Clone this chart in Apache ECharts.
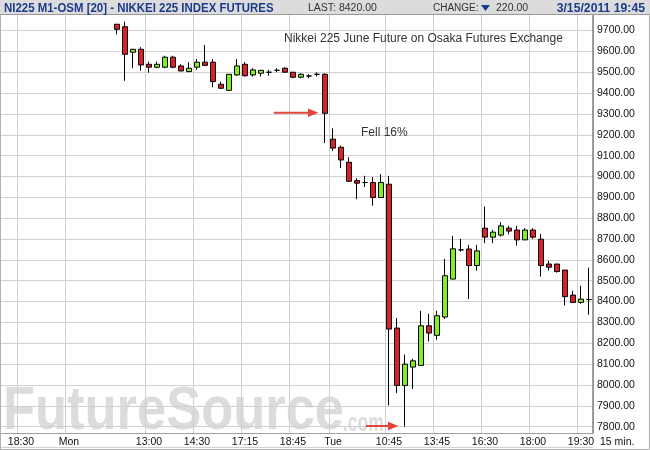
<!DOCTYPE html>
<html>
<head>
<meta charset="utf-8">
<title>NI225 M1-OSM [20]</title>
<script src="https://cdn.jsdelivr.net/npm/echarts@6/dist/echarts.min.js"></script>
<style>
  html, body { margin: 0; padding: 0; background: #fff; }
  #chart { width: 650px; height: 450px; }
</style>
</head>
<body>
<div id="chart"></div>
<script>
// 15 min. slots across the plot, the first bars of the window are empty
const slotCount = 74;
const firstBar = 14;
const tickSlots = [2, 8, 18, 24, 30, 36, 41, 48, 54, 60, 66, 72];
const tickLabels = ['18:30', 'Mon', '13:00', '14:30', '17:15', '18:45', 'Tue', '10:45', '13:45', '16:30', '18:00', '19:30'];

// OHLC, one entry per bar
const opens = [9730, 9718, 9596, 9610, 9538, 9524, 9524, 9572, 9530, 9503,
  9524, 9548, 9548, 9442, 9413, 9487, 9538, 9487, 9495, 9500,
  9509, 9519, 9500, 9476, 9482, 9490, 9490, 9179, 9140, 9068,
  8980, 8971, 8971, 8899, 8963, 8273, 7998, 8086, 8094, 8284,
  8238, 8326, 8508, 8648, 8652, 8573, 8752, 8709, 8719, 8752,
  8743, 8696, 8743, 8699, 8580, 8580, 8551, 8431, 8396, 8410];
const closes = [9706, 9586, 9610, 9535, 9524, 9538, 9572, 9524, 9506, 9519,
  9548, 9533, 9455, 9423, 9490, 9530, 9483, 9511, 9509, 9500,
  9509, 9500, 9476, 9490, 9482, 9490, 9303, 9136, 9079, 8977,
  8968, 8971, 8899, 8971, 8268, 7998, 8100, 8116, 8284, 8249,
  8332, 8524, 8653, 8648, 8573, 8643, 8709, 8733, 8763, 8738,
  8696, 8743, 8709, 8573, 8565, 8544, 8424, 8396, 8412, 8410];
const lows = [9682, 9459, 9519, 9507, 9498, 9519, 9519, 9519, 9505, 9500,
  9511, 9530, 9428, 9420, 9412, 9482, 9479, 9479, 9479, 9483,
  9500, 9499, 9471, 9471, 9471, 9480, 9160, 9122, 9040, 8976,
  8891, 8949, 8860, 8898, 7902, 7961, 7801, 7981, 8093, 8209,
  8217, 8317, 8507, 8640, 8412, 8549, 8680, 8680, 8712, 8723,
  8669, 8695, 8701, 8520, 8549, 8539, 8381, 8395, 8389, 8337];
const highs = [9731, 9742, 9612, 9620, 9551, 9551, 9579, 9579, 9538, 9548,
  9563, 9630, 9563, 9455, 9491, 9563, 9548, 9519, 9510, 9511,
  9519, 9524, 9501, 9495, 9490, 9499, 9495, 9231, 9148, 9092,
  8992, 9003, 8997, 9011, 9003, 8321, 8145, 8126, 8356, 8342,
  8356, 8605, 8715, 8701, 8672, 8672, 8856, 8744, 8781, 8763,
  8763, 8752, 8752, 8725, 8595, 8581, 8552, 8452, 8476, 8563];

const yMin = 7700;
const yMax = 9800;
const yStep = 100;
const lastPrice = closes[closes.length - 1];

const categories = Array.from({length: slotCount}, (_, i) => {
  const k = tickSlots.indexOf(i);
  return k >= 0 ? tickLabels[k] : 's' + i;
});
const candles = categories.map((c, i) => {
  const j = i - firstBar;
  if (j < 0 || j >= opens.length) return '-';
  return [opens[j], closes[j], lows[j], highs[j]];
});
const isTick = idx => tickSlots.indexOf(idx) >= 0;

const FONT = '"Liberation Sans", Arial, sans-serif';
const BLUE = '#1d3b8c';
const RED = '#dd1f26';
const GREEN = '#80f020';
const ARROW = '#e2463a';

const chart = echarts.init(document.getElementById('chart'), null, {renderer: 'canvas'});

const option = {
  animation: false,
  backgroundColor: '#fff',
  textStyle: {fontFamily: FONT},
  grid: [
    // value scale: 7700 and 9800 fall under the header and the time strip
    {left: 1, right: 57, top: 9.65, bottom: 2.45, outerBoundsMode: 'none'},
    // visible plot box: time gridlines, time labels and the price axis line
    {left: 1, right: 57, top: 15, bottom: 17, outerBoundsMode: 'none'}
  ],
  xAxis: [
    {gridIndex: 0, type: 'category', data: categories, show: false},
    {
      gridIndex: 1,
      type: 'category',
      data: categories,
      axisLine: {show: true, lineStyle: {color: '#a0a0a0'}},
      axisTick: {show: false},
      axisLabel: {interval: isTick, color: '#111', fontSize: 10.5, margin: 4},
      splitLine: {show: true, interval: isTick, lineStyle: {color: '#d0d0d0'}}
    }
  ],
  yAxis: [
    {
      gridIndex: 0,
      type: 'value',
      position: 'right',
      min: yMin,
      max: yMax,
      interval: yStep,
      axisLine: {show: false},
      axisTick: {show: false},
      axisLabel: {
        color: '#111',
        fontSize: 10.5,
        margin: 4,
        formatter: v => (v === yMin || v === yMax) ? '' : v.toFixed(2)
      },
      splitLine: {lineStyle: {color: '#d0d0d0'}}
    },
    {
      gridIndex: 1,
      type: 'value',
      position: 'right',
      min: 0,
      max: 1,
      axisLine: {show: true, lineStyle: {color: '#808080', width: 1.5}},
      axisTick: {show: false},
      axisLabel: {show: false},
      splitLine: {show: false}
    }
  ],
  series: [
    {
      type: 'candlestick',
      xAxisIndex: 0,
      yAxisIndex: 0,
      data: candles,
      barWidth: 5,
      itemStyle: {
        color: GREEN,
        color0: RED,
        borderColor: '#000',
        borderColor0: '#000',
        borderColorDoji: '#000',
        borderWidth: 1
      },
      markLine: {
        silent: true,
        symbol: ['none', 'none'],
        lineStyle: {opacity: 0},
        label: {
          position: 'end',
          distance: 2,
          formatter: p => p.value.toFixed(2),
          color: '#fff',
          backgroundColor: RED,
          fontSize: 10.5,
          lineHeight: 12,
          padding: [0, 14, 0, 2]
        },
        data: [{yAxis: lastPrice}]
      }
    }
  ],
  graphic: [
    // watermark
    {
      type: 'text', x: 3, y: 443, scaleX: 0.86, z: -10, silent: true,
      style: {text: 'FutureSource', font: 'bold 61px ' + FONT, fill: '#dcdcdc', verticalAlign: 'bottom'}
    },
    {
      type: 'text', x: 343, y: 437, scaleX: 0.7, z: -10, silent: true,
      style: {text: '.com', font: 'bold 25px ' + FONT, fill: '#dcdcdc', verticalAlign: 'bottom'}
    },
    // header bar
    {type: 'rect', z: 100, shape: {x: 0, y: 0, width: 650, height: 14}, style: {fill: '#dcdcdc'}},
    {type: 'line', z: 100, shape: {x1: 0, y1: 14.5, x2: 650, y2: 14.5}, style: {stroke: '#9a9a9a', lineWidth: 1}},
    {
      type: 'text', z: 101, x: 4, y: 8, scaleX: 0.88,
      style: {text: 'NI225 M1-OSM [20] - NIKKEI 225 INDEX FUTURES', font: 'bold 13px ' + FONT, fill: BLUE, verticalAlign: 'middle'}
    },
    {
      type: 'text', z: 101, x: 308, y: 8,
      style: {text: 'LAST: 8420.00', font: '10.5px ' + FONT, fill: '#333', verticalAlign: 'middle'}
    },
    {
      type: 'text', z: 101, x: 433, y: 8,
      style: {text: 'CHANGE:', font: '10px ' + FONT, fill: '#333', verticalAlign: 'middle'}
    },
    {type: 'polygon', z: 101, shape: {points: [[481, 5], [490, 5], [485.5, 11]]}, style: {fill: BLUE}},
    {
      type: 'text', z: 101, x: 496, y: 8,
      style: {text: '220.00', font: '10.5px ' + FONT, fill: '#333', verticalAlign: 'middle'}
    },
    {
      type: 'text', z: 101, x: 645, y: 8, scaleX: 0.94,
      style: {text: '3/15/2011 19:45', font: 'bold 13px ' + FONT, fill: BLUE, align: 'right', verticalAlign: 'middle'}
    },
    // annotations
    {
      type: 'text', z: 50, x: 284, y: 39,
      style: {text: 'Nikkei 225 June Future on Osaka Futures Exchange', font: '12px ' + FONT, fill: '#333', verticalAlign: 'middle'}
    },
    {
      type: 'text', z: 50, x: 361, y: 133,
      style: {text: 'Fell 16%', font: '12px ' + FONT, fill: '#333', verticalAlign: 'middle'}
    },
    {type: 'line', z: 50, shape: {x1: 274, y1: 112.7, x2: 310, y2: 112.7}, style: {stroke: ARROW, lineWidth: 2}},
    {type: 'polygon', z: 50, shape: {points: [[308, 108.5], [318.5, 112.7], [308, 117]]}, style: {fill: ARROW}},
    {type: 'line', z: 50, shape: {x1: 366, y1: 426, x2: 390, y2: 426}, style: {stroke: ARROW, lineWidth: 2}},
    {type: 'polygon', z: 50, shape: {points: [[388, 421.8], [398.5, 426], [388, 430.2]]}, style: {fill: ARROW}},
    // bar size note in the time strip
    {
      type: 'text', z: 50, x: 600, y: 442,
      style: {text: '15 min.', font: '10.5px ' + FONT, fill: '#111', verticalAlign: 'middle'}
    },
    // outer frame
    {type: 'rect', z: 99, shape: {x: 0.5, y: 0.5, width: 649, height: 449}, style: {fill: 'none', stroke: '#b0b0b0', lineWidth: 1}}
  ]
};

chart.setOption(option);
window.addEventListener('resize', () => chart.resize());
</script>
</body>
</html>
